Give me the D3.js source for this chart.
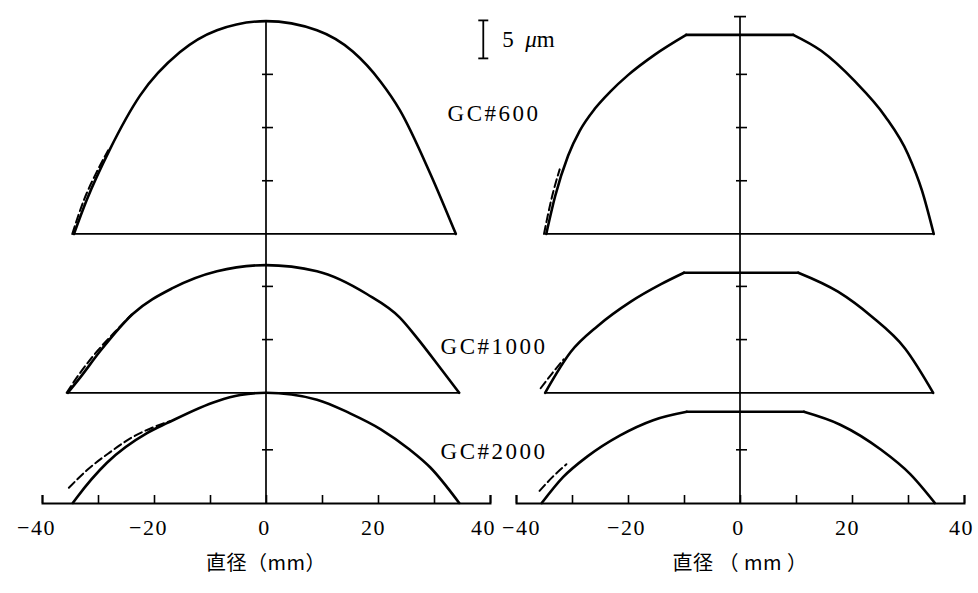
<!DOCTYPE html>
<html><head><meta charset="utf-8">
<script src="https://cdn.jsdelivr.net/npm/d3@7"></script>
<style>body{margin:0;background:#fff}svg{display:block}</style>
</head><body><svg id="c" width="978" height="593"></svg>
<script>
// ---------- data ----------
const xTicks = [-40,-30,-20,-10,0,10,20,30,40];
const xTickLabels = [-40,-20,0,20,40];
const gradeLabels = ["GC#600","GC#1000","GC#2000"];
const profileOffsets = [35.4, 14.5, 0];          // μm, baseline of each profile
const yTickSets = [[7,14,21],[7,14],[7]];        // μm above each baseline
const axisTitles = ["直径（mm）", "直径 （ mm ）"];
const scaleBarUm = 5;

// left panel: [diameter mm, height μm]
const left600  = [[-34.3,0],[-32.0,4.5],[-27.9,11.1],[-22.5,18.2],[-15.4,23.9],[-8.75,26.8],[0,28.0],[9.1,26.8],[15.5,24.0],[20.5,20.0],[23.9,16.3],[29.3,8.0],[33.9,0]];
const left1000 = [[-35.4,0],[-33.2,2.0],[-29.6,5.5],[-23.75,10.4],[-16.6,13.8],[-8.75,16.0],[0,16.8],[9.1,16.0],[18.0,13.0],[23.9,9.9],[27.0,7.2],[31.4,3.0],[34.5,0]];
const left2000 = [[-34.5,0],[-33.8,0.7],[-28.4,5.3],[-21.25,9.2],[-17.7,10.5],[-8.75,13.4],[-4.6,14.2],[0,14.5],[9.1,13.6],[15.0,11.8],[20.5,9.7],[25.7,7.0],[29.3,4.7],[34.5,0]];
const left600D  = [[-34.6,0],[-32.6,4.3],[-30.2,8.2],[-28.2,11]];
const left1000D = [[-35.6,0],[-33.6,2.2],[-30,5.6],[-27,8],[-24,10.3]];
const left2000D = [[-35.2,2.0],[-32,4.3],[-28,6.6],[-24,8.6],[-20,10.0],[-17,10.8]];

// right panel: left arc, right arc (flat top joins them)
const right600L  = [[-34.6,0],[-33.0,5.0],[-30.7,10.3],[-28.6,13.6],[-25.9,16.5],[-23.2,18.7],[-20,20.9],[-15.2,23.6],[-9.6,26.2]];
const right600R  = [[9.5,26.2],[14.5,24.1],[20.5,20.1],[25.9,15.5],[30,10.5],[32.5,5.7],[34.6,0]];
const right1000L = [[-34.8,0],[-30.2,5.4],[-25.4,8.8],[-19.5,12.0],[-14.1,14.3],[-10,15.8]];
const right1000R = [[10.4,15.8],[17.5,13.3],[23.4,10.1],[29.5,5.8],[34.5,0]];
const right2000L = [[-35.4,0],[-31.6,3.4],[-27.3,6.1],[-21.4,8.9],[-15.5,10.9],[-9.5,12.0]];
const right2000R = [[11.4,12.0],[17.9,10.3],[25.2,7.0],[30.4,3.8],[34.8,0]];
const right600D  = [[-35.0,0],[-33.7,4.5],[-32.2,8.5]];
const right1000D = [[-35.6,0.6],[-33.5,2.6],[-31.5,4.4]];
const right2000D = [[-35.8,1.6],[-33.5,3.4],[-31,5.1]];

// ---------- drawing ----------
const svg = d3.select("#c");
svg.append("rect").attr("width",978).attr("height",593).attr("fill","#fff");
const y = d3.scaleLinear().domain([0,66]).range([503,1.4]);
const xL = d3.scaleLinear().domain([-40,40]).range([42,490]);
const xR = d3.scaleLinear().domain([-40,40]).range([516,964]);
const serif = "'Liberation Serif','DejaVu Serif',serif";

function curve(x, off, pts, dashed){
  const line = d3.line().x(d=>x(d[0])).y(d=>y(d[1]+off)).curve(d3.curveMonotoneX);
  const p = svg.append("path").attr("d", line(pts)).attr("fill","none")
    .attr("stroke","#000").attr("stroke-linejoin","round").attr("stroke-linecap","round");
  if(dashed) p.attr("stroke-width",2).attr("stroke-dasharray","8,4");
  else p.attr("stroke-width",2.6);
  return p;
}
function seg(x1,y1,x2,y2,w){
  svg.append("line").attr("x1",x1).attr("y1",y1).attr("x2",x2).attr("y2",y2)
    .attr("stroke","#000").attr("stroke-width",w||1.6);
}

function drawPanel(x, top, capped, labelShift){
  const ax = d3.axisBottom(x).tickValues(xTicks).tickSize(-8).tickSizeOuter(-8).tickPadding(16)
    .tickFormat(d => xTickLabels.includes(d) ? (d<0 ? "\u2212"+Math.abs(d) : String(d)) : "");
  const g = svg.append("g").attr("transform",`translate(0,${y(0)})`).call(ax);
  g.select(".domain").attr("stroke-width",2);
  g.selectAll(".tick line").attr("stroke-width",1.6);
  g.selectAll("text").attr("font-family",serif).attr("font-size",22).attr("letter-spacing",1.5)
    .attr("fill","#000").attr("dx", d => labelShift[d] || 0);
  seg(x(0), y(0), x(0), y(top), 1.7);
  if(capped) seg(x(0)-6, y(top), x(0)+6, y(top), 1.7);
  profileOffsets.forEach((off,i)=>{
    yTickSets[i].forEach(t => seg(x(0)-4, y(off+t), x(0)+7, y(off+t), 1.6));
  });
}

drawPanel(xL, 63.4, false, {"-40":-6, "-20":-6, "0":-2, "20":-5, "40":-7});
drawPanel(xR, 64.0, true,  {"-40":5, "-20":-2, "0":-2, "20":-5, "40":-3});

[[left600,left600D],[left1000,left1000D],[left2000,left2000D]].forEach(([pts,dp],i)=>{
  const off = profileOffsets[i];
  curve(xL, off, dp, true);
  curve(xL, off, pts, false);
  if(off>0) seg(xL(pts[0][0]), y(off), xL(pts[pts.length-1][0]), y(off), 1.7);
});
[[right600L,right600R,right600D],[right1000L,right1000R,right1000D],[right2000L,right2000R,right2000D]].forEach(([a,b,dp],i)=>{
  const off = profileOffsets[i];
  curve(xR, off, dp, true);
  curve(xR, off, a, false);
  curve(xR, off, b, false);
  const la = a[a.length-1], fb = b[0];
  svg.append("line").attr("x1",xR(la[0])).attr("y1",y(la[1]+off)).attr("x2",xR(fb[0])).attr("y2",y(fb[1]+off))
    .attr("stroke","#000").attr("stroke-width",2.6).attr("stroke-linecap","round");
  if(off>0) seg(xR(a[0][0]), y(off), xR(b[b.length-1][0]), y(off), 1.7);
});

const labelH = [50.3, 19.6, 5.8];
gradeLabels.forEach((t,i)=>{
  svg.append("text").attr("x", xL(40)+4).attr("y", y(labelH[i])).attr("text-anchor","middle")
    .attr("font-family",serif).attr("font-size",23).attr("letter-spacing",2.5).attr("fill","#000").text(t);
});

const sbX = xL(38.8), sbTop = 63.5;
seg(sbX, y(sbTop), sbX, y(sbTop-scaleBarUm), 1.8);
seg(sbX-5, y(sbTop), sbX+5, y(sbTop), 1.8);
seg(sbX-5, y(sbTop-scaleBarUm), sbX+5, y(sbTop-scaleBarUm), 1.8);
const sbt = svg.append("text").attr("x", sbX+19).attr("y", y(sbTop-scaleBarUm/2)+8)
  .attr("font-family",serif).attr("font-size",23).attr("fill","#000");
sbt.append("tspan").text(scaleBarUm+"\u2002");
sbt.append("tspan").attr("font-style","italic").text("\u03bc");
sbt.append("tspan").text("m");

[xL, xR].forEach((x,i)=>{
  svg.append("text").attr("x", x(0)).attr("y", 570).attr("text-anchor","middle")
    .attr("font-family","'Noto Sans CJK JP','Noto Sans CJK SC',sans-serif").attr("font-size",20)
    .attr("letter-spacing",0.5).attr("fill","#000").text(axisTitles[i]);
});
</script></body></html>
